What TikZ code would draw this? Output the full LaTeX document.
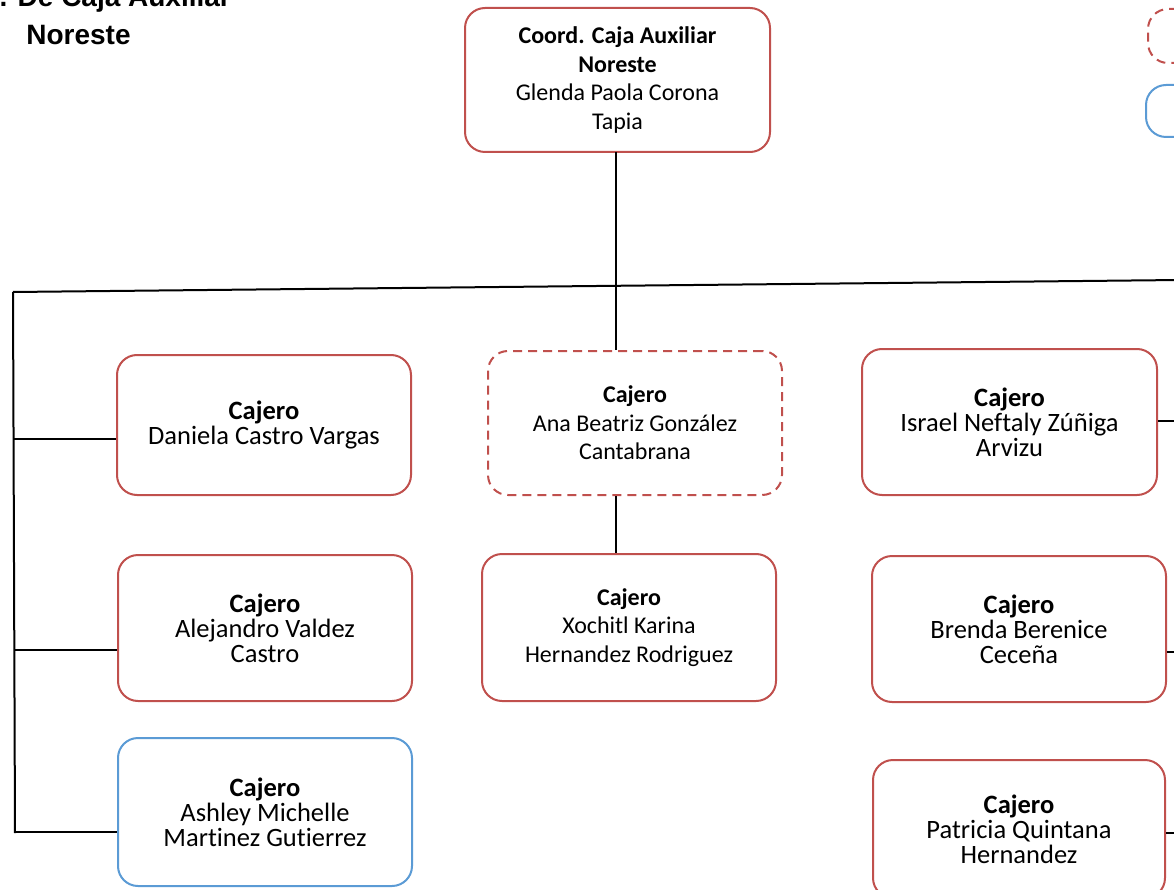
\documentclass[tikz,border=0pt]{standalone}
\usepackage{fontspec}
\setmainfont{Carlito}[Ligatures=NoCommon]
\newfontfamily\titlefont{Liberation Sans}
\usetikzlibrary{calc}

\definecolor{boxred}{HTML}{C0504D}
\definecolor{boxblue}{HTML}{5B9BD5}

\begin{document}
\begin{tikzpicture}[x=1pt,y=-1pt,
  card/.style={draw=boxred, line width=2pt, rounded corners=20pt, fill=white,
               align=center, inner sep=0pt},
  vacant/.style={card, dash pattern=on 9pt off 6pt},
  newcard/.style={card, draw=boxblue},
  boxsize/.style 2 args={minimum width=#1pt, minimum height=#2pt},
  smalltxt/.style={font=\fontsize{24}{28.5}\selectfont},
  bigtxt/.style={font=\fontsize{26.5}{25}\selectfont},
  link/.style={draw=black, line width=2pt},
  heading/.style={font=\titlefont\bfseries\fontsize{28}{34}\selectfont, anchor=base},
]
\useasboundingbox (0,0) rectangle (1174,890);
\clip (0,0) rectangle (1174,890);

% heading
\node[heading] (head1) at (74,7) {Coord. De Caja Auxiliar};
\node[heading] (head2) at (78.5,45) {Noreste};

% legend
\node[vacant, boxsize={80}{54}, anchor=north west] (legvac) at (1147,8) {};
\node[newcard, boxsize={80}{52}, anchor=north west] (legnew) at (1145,84) {};

% boxes
\node[card, smalltxt, boxsize={305}{144}] (top) at (617.5,80)
  {\textbf{Coord. Caja Auxiliar}\\\textbf{Noreste}\\Glenda Paola Corona\\Tapia};

\node[card, bigtxt, boxsize={294}{140}] (dan) at (264,425)
  {\textbf{Cajero}\\Daniela Castro Vargas};
\node[card, bigtxt, boxsize={294}{146}] (ale) at (265,628)
  {\textbf{Cajero}\\Alejandro Valdez\\Castro};
\node[newcard, bigtxt, boxsize={294}{148}] (ash) at (265,812)
  {\textbf{Cajero}\\Ashley Michelle\\Martinez Gutierrez};

\node[vacant, smalltxt, boxsize={294}{144}] (ana) at (635,423)
  {\textbf{Cajero}\\Ana Beatriz González\\Cantabrana};
\node[card, smalltxt, boxsize={294}{147}] (xoc) at (629,627.5)
  {\textbf{Cajero}\\Xochitl Karina\\Hernandez Rodriguez};

\node[card, bigtxt, boxsize={295}{146}] (isr) at (1009.5,422)
  {\textbf{Cajero}\\Israel Neftaly Zúñiga\\Arvizu};
\node[card, bigtxt, boxsize={294}{146}] (bre) at (1019,629)
  {\textbf{Cajero}\\Brenda Berenice\\Ceceña};
\node[card, bigtxt, boxsize={292}{138}] (pat) at (1019,829)
  {\textbf{Cajero}\\Patricia Quintana\\Hernandez};

% bus lines
\coordinate (busL) at (13,292);
\coordinate (busR) at (1180,280);
\coordinate (busLb) at (15,833);
\draw[link] (busL) -- (busR);
\draw[link] (busL) -- (busLb);

% coordinator down to the middle column
\draw[link] (616,152) coordinate (topfoot) -- (topfoot |- ana.north);
\draw[link] (topfoot |- ana.south) -- (topfoot |- xoc.north);

% left column branches
\coordinate (bl1) at (14,439);
\coordinate (bl2) at (15,650);
\coordinate (bl3) at (15,832);
\draw[link] (bl1) -- (bl1 -| dan.west);
\draw[link] (bl2) -- (bl2 -| ale.west);
\draw[link] (bl3) -- (bl3 -| ash.west);

% right column branches
\coordinate (br1) at (1180,421);
\coordinate (br2) at (1180,652);
\coordinate (br3) at (1180,833);
\draw[link] (br1 -| isr.east) -- (br1);
\draw[link] (br2 -| bre.east) -- (br2);
\draw[link] (br3 -| pat.east) -- (br3);
\end{tikzpicture}
\end{document}
